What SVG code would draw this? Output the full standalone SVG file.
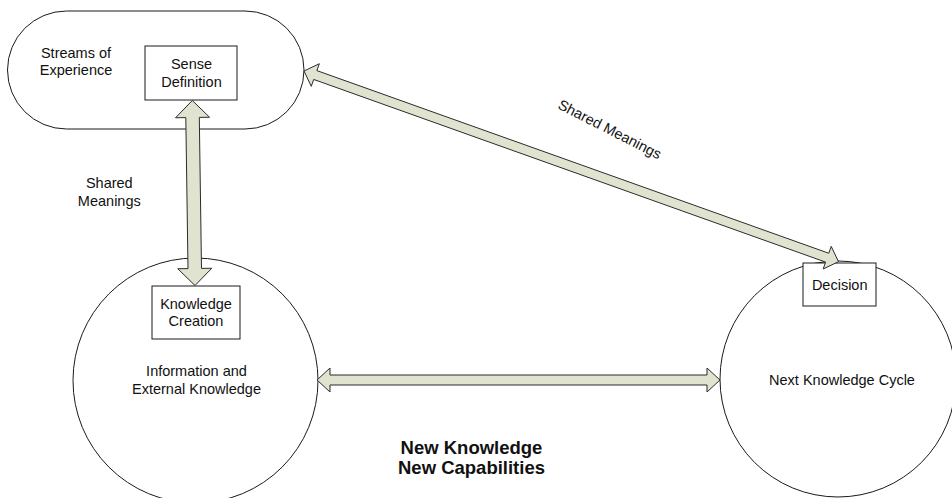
<svg xmlns="http://www.w3.org/2000/svg" width="952" height="498" viewBox="0 0 952 498">
  <style>
    .shape { fill: #ffffff; stroke: #1a1a1a; stroke-width: 1; }
    .box { fill: #ffffff; stroke: #1a1a1a; stroke-width: 1; }
    .arrow { fill: #dfe3cf; stroke: #2b2b2b; stroke-width: 1; stroke-linejoin: miter; }
    text { font-family: "Liberation Sans", Arial, sans-serif; font-size: 14.5px; fill: #111111; text-anchor: middle; }
    .bold { font-weight: bold; font-size: 18.5px; }
  </style>
  <rect width="952" height="498" fill="#ffffff"/>

  <g id="streams">
    <rect class="shape" x="7.5" y="11" width="296.5" height="118" rx="59" ry="59"/>
    <text x="76" y="58.3">Streams of</text>
    <text x="76" y="75">Experience</text>
  </g>

  <g id="sense-definition">
    <rect class="box" x="145" y="46" width="92" height="54"/>
    <text x="191.5" y="69.3">Sense</text>
    <text x="191.5" y="87.3">Definition</text>
  </g>

  <g id="information">
    <circle class="shape" cx="195.5" cy="380.5" r="122.5"/>
    <text x="196.5" y="376">Information and</text>
    <text x="196.5" y="394">External Knowledge</text>
  </g>

  <g id="knowledge-creation">
    <rect class="box" x="152" y="286" width="88" height="53"/>
    <text x="196" y="309">Knowledge</text>
    <text x="196" y="326">Creation</text>
  </g>

  <g id="next-cycle">
    <circle class="shape" cx="838" cy="379" r="118"/>
    <text x="842" y="385">Next Knowledge Cycle</text>
  </g>

  <g id="decision">
    <rect class="box" x="803" y="263" width="73" height="43"/>
    <text x="839.7" y="290">Decision</text>
  </g>

  <g id="connectors">
    <polygon class="arrow" points="192.3,100.5 209.55,117.25 199.3,117.4 201.5,268.4 211.75,268.25 195,285.5 177.75,268.75 188,268.6 185.8,117.6 175.55,117.75"/>
    <polygon class="arrow" points="317,380 330,368 330,375 707,375 707,368 720,380 707,392 707,385 330,385 330,392"/>
    <polygon class="arrow" points="304,71 319.33,63.73 316.88,70.6 828.78,253.24 831.23,246.37 838.5,261.7 823.17,268.97 825.62,262.1 313.72,79.46 311.27,86.33"/>
    <text x="109.3" y="188.3">Shared</text>
    <text x="109.3" y="205.7">Meanings</text>
    <text x="557" y="108" text-anchor="start" style="text-anchor:start" transform="rotate(27 557 108)">Shared Meanings</text>
  </g>

  <g id="caption">
    <text class="bold" x="471.5" y="454.3">New Knowledge</text>
    <text class="bold" x="471.5" y="474.3">New Capabilities</text>
  </g>
</svg>
